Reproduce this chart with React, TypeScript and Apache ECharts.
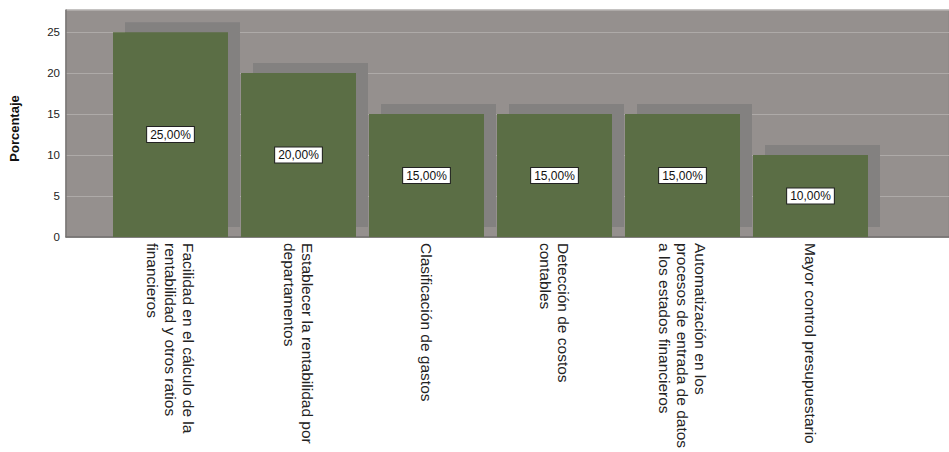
import React, { useEffect, useRef } from "react";
import * as echarts from "echarts";

const categories = [
  "Facilidad en el cálculo de la\nrentabilidad y otros ratios\nfinancieros",
  "Establecer la rentabilidad por\ndepartamentos",
  "Clasificación de gastos",
  "Detección de costos\ncontables",
  "Automatización en los\nprocesos de entrada de datos\na los estados financieros",
  "Mayor control presupuestario",
];
const percentages = [25, 20, 15, 15, 15, 10];
const yTicks = { min: 0, max: 27.7, interval: 5 };

const FONT = "'Liberation Sans', Arial, sans-serif";

export default function App() {
  const ref = useRef<HTMLDivElement>(null);
  useEffect(() => {
    if (!ref.current) return;
    const chart = echarts.init(ref.current, undefined, { renderer: "svg" });
    const plotTop = 10;
    const plotH = 227;
    chart.setOption({
      animation: false,
      textStyle: { fontFamily: FONT },
      grid: [
        {
          left: 63,
          right: 0,
          top: plotTop,
          height: plotH,
          show: true,
          backgroundColor: "#95908e",
          borderColor: "#8a8684",
          borderWidth: 1,
        },
        { left: 106.5, width: 768, top: plotTop, height: plotH },
        { left: 118.5, width: 768, top: plotTop - 10, height: plotH },
      ],
      xAxis: [
        {
          gridIndex: 0,
          type: "category",
          data: [""],
          axisLine: { show: true, lineStyle: { color: "#737170", width: 1.5 } },
          axisTick: { show: false },
          axisLabel: { show: false },
          splitLine: { show: false },
        },
        {
          gridIndex: 1,
          type: "category",
          data: categories,
          axisLine: { show: false },
          axisTick: { show: false },
          axisLabel: {
            rotate: -90,
            interval: 0,
            margin: 6,
            fontSize: 15.5,
            lineHeight: 18,
            color: "#222",
            fontFamily: FONT,
          },
        },
        {
          gridIndex: 2,
          type: "category",
          data: categories,
          show: false,
        },
      ],
      yAxis: [
        {
          gridIndex: 0,
          type: "value",
          min: yTicks.min,
          max: yTicks.max,
          interval: yTicks.interval,
          name: "Porcentaje",
          nameLocation: "middle",
          nameGap: 45,
          nameTextStyle: {
            fontWeight: "bold",
            fontSize: 13,
            color: "#111",
            fontFamily: FONT,
            padding: [0, 10, 0, 0],
          },
          axisLine: { show: true, lineStyle: { color: "#7a7776", width: 1.5 } },
          axisTick: { show: false },
          axisLabel: {
            fontSize: 11.5,
            color: "#222",
            margin: 6,
            fontFamily: FONT,
            showMaxLabel: false,
            formatter: (v: number) => (v % yTicks.interval === 0 ? String(v) : ""),
          },
          splitLine: { show: true, lineStyle: { color: "#aeaaa8", width: 1 } },
        },
        { gridIndex: 1, type: "value", min: yTicks.min, max: yTicks.max, show: false, splitLine: { show: false } },
        { gridIndex: 2, type: "value", min: yTicks.min, max: yTicks.max, show: false, splitLine: { show: false } },
      ],
      series: [
        {
          type: "bar",
          xAxisIndex: 2,
          yAxisIndex: 2,
          data: percentages,
          barWidth: 115,
          itemStyle: { color: "#838180" },
          z: 1,
          silent: true,
        },
        {
          type: "bar",
          xAxisIndex: 1,
          yAxisIndex: 1,
          data: percentages,
          barWidth: 115,
          itemStyle: { color: "#5b6e45" },
          z: 2,
          label: {
            show: true,
            position: "inside",
            formatter: (p: any) => p.value.toFixed(2).replace(".", ",") + "%",
            backgroundColor: "#ffffff",
            borderColor: "#222",
            borderWidth: 1,
            padding: [2, 3, 1, 3],
            fontSize: 12,
            color: "#111",
            fontFamily: FONT,
          },
        },
      ],
    });
    return () => chart.dispose();
  }, []);
  return (
    <div
      ref={ref}
      style={{ position: "fixed", left: 0, top: 0, width: 949, height: 452, background: "#fff" }}
    />
  );
}
